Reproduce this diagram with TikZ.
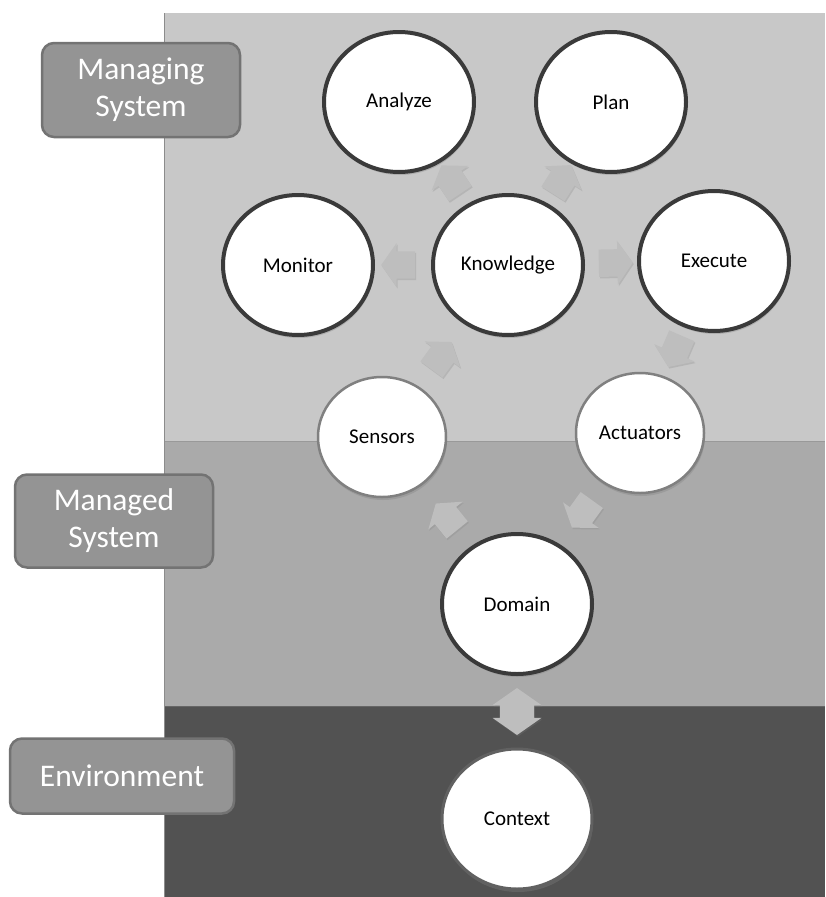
\documentclass[tikz,border=0pt]{standalone}
\usepackage{fontspec}
\setmainfont{Carlito}
\usetikzlibrary{shapes.geometric,shapes.arrows,shadows,calc}
\definecolor{lightband}{RGB}{200,200,200}
\definecolor{midband}{RGB}{170,170,170}
\definecolor{darkband}{RGB}{82,82,82}
\definecolor{arrowfill}{RGB}{190,190,190}
\definecolor{labelfill}{RGB}{148,148,148}
\definecolor{ringdark}{RGB}{58,58,58}

% block arrow half way (or at #3) from #1 to #2
\newcommand{\flowarrow}[4]{%
  \path let \p1=($(#2)-(#1)$), \n1={atan2(\y1,\x1)} in
    node[flowarrow, rotate=\n1] (#4) at ($(#1)!#3!(#2)$) {};}

\begin{document}
\begin{tikzpicture}[x=1pt, y=-1pt]
                    \tikzset{bigstate/.style={ellipse, draw=ringdark, line width=4pt, fill=white,
                        minimum width=150pt, minimum height=140pt, font=\fontsize{21}{25}\selectfont,
                        drop shadow={shadow xshift=1pt, shadow yshift=-3pt, opacity=0.35}}}
                    \tikzset{smallstate/.style={bigstate, draw=black!50, line width=2.5pt,
                        minimum width=128pt, minimum height=120pt}}
                    \tikzset{levelbox/.style={rounded corners=12pt, fill=labelfill, draw=black!55,
                        line width=2.5pt, text=white, align=center, font=\fontsize{31.5}{37}\selectfont}}
                    \tikzset{flowarrow/.style={single arrow, fill=arrowfill, inner xsep=1pt, inner ysep=13pt,
                        minimum height=34pt, minimum width=44pt, single arrow head extend=8pt,
                        single arrow tip angle=110,
                        drop shadow={shadow xshift=1pt, shadow yshift=-1.5pt, opacity=0.25}}}
                    \useasboundingbox (0,0) rectangle (825,897);
                    % the three layers
                    \fill[lightband] (164,13) rectangle (825,441);
                    \fill[midband] (164,441) rectangle (825,706);
                    \fill[darkband] (164,706) rectangle (825,897);
                    \draw[black!40, line width=1pt] (164,441) -- (825,441);
                    \draw[black!60, line width=1pt] (164,706) -- (825,706);
                    \draw[black!45, line width=1pt] (164,13) -- (164,897);
                    % layer labels
                    \node[levelbox, minimum width=198pt, minimum height=94pt] (managing) at (141,90) {Managing\\System};
                    \node[levelbox, minimum width=198pt, minimum height=93pt] (managed) at (114,521) {Managed\\System};
                    \node[levelbox, minimum width=224pt, minimum height=75pt] (environment) at (122,776) {Environment};
                    % MAPE-K loop
                    \node[bigstate] (analyze) at (399,102) {Analyze};
                    \node[bigstate] (plan) at (611,102) {Plan};
                    \node[bigstate] (monitor) at (298,265) {Monitor};
                    \node[bigstate] (knowledge) at (508,265) {Knowledge};
                    \node[bigstate] (execute) at (714,261) {Execute};
                    \node[smallstate] (sensors) at (382,437) {Sensors};
                    \node[smallstate] (actuators) at (640,433) {Actuators};
                    \node[bigstate] (domain) at (517,604) {Domain};
                    \node[bigstate, draw=black!62, line width=3pt] (context) at (517,819) {Context};
                    % block arrows
                    \flowarrow{knowledge}{monitor}{0.5}{kmon}
                    \flowarrow{knowledge}{execute}{0.5}{kexe}
                    \flowarrow{knowledge}{analyze}{0.5}{kana}
                    \flowarrow{knowledge}{plan}{0.5}{kpla}
                    \flowarrow{execute}{actuators}{0.5}{eact}
                    \flowarrow{actuators}{domain}{0.45}{adom}
                    \flowarrow{domain}{sensors}{0.5}{dsen}
                    \flowarrow{sensors}{knowledge}{0.45}{skno}
                    \node[double arrow, rotate=90, fill=arrowfill, inner xsep=1pt, inner ysep=16pt,
                        minimum height=47pt, minimum width=49pt, double arrow head extend=7pt,
                        double arrow tip angle=110,
                        drop shadow={shadow xshift=1pt, shadow yshift=-1.5pt, opacity=0.25}]
                        (dcon) at ($(domain)!0.5!(context)$) {};
\end{tikzpicture}
\end{document}
